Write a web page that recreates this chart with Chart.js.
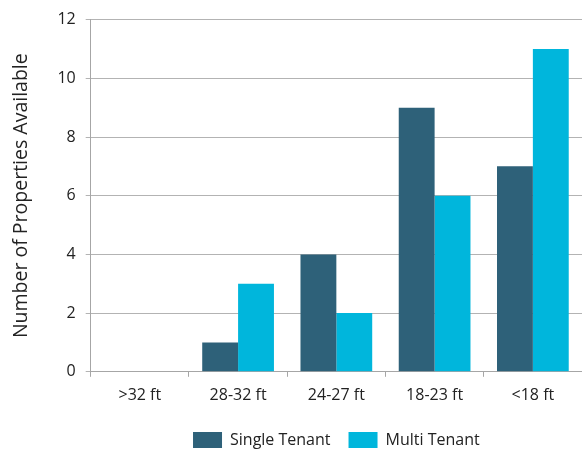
<!DOCTYPE html>
<html><head><meta charset="utf-8">
<script src="https://cdn.jsdelivr.net/npm/chart.js@4/dist/chart.umd.min.js"></script>
<style>html,body{margin:0;padding:0;background:#fff}#wrap{width:582px;height:450px}</style>
</head><body><div id="wrap"><canvas id="c"></canvas></div>
<script>
const categories = [">32 ft", "28-32 ft", "24-27 ft", "18-23 ft", "<18 ft"];
const singleTenant = [0, 1, 4, 9, 7];
const multiTenant = [0, 3, 2, 6, 11];
const seriesNames = ["Single Tenant", "Multi Tenant"];
const yTicks = [0, 2, 4, 6, 8, 10, 12];

const FONT = "'Open Sans', 'DejaVu Sans', sans-serif";
new Chart(document.getElementById('c'), {
  type: 'bar',
  data: {
    labels: categories,
    datasets: [
      {label: seriesNames[0], data: singleTenant, backgroundColor: '#2e6179', categoryPercentage: 0.73, barPercentage: 1.0},
      {label: seriesNames[1], data: multiTenant, backgroundColor: '#00b6dc', categoryPercentage: 0.73, barPercentage: 1.0}
    ]
  },
  options: {
    responsive: true, maintainAspectRatio: false, animation: false,
    layout: {padding: {top: 4, right: 0, bottom: -8, left: 10}},
    plugins: {
      legend: {position: 'bottom', fullSize: false, labels: {boxWidth: 29, boxHeight: 16, padding: 18, color: '#222', font: {family: FONT, size: 16}}},
      tooltip: {enabled: false}
    },
    scales: {
      x: {
        grid: {drawOnChartArea: false, drawTicks: true, tickLength: 5, color: '#a6a6a6', offset: true},
        border: {color: '#a6a6a6', width: 1},
        ticks: {color: '#222', padding: 9, font: {family: FONT, size: 16}}
      },
      y: {
        min: 0, max: 12,
        afterBuildTicks: (s) => { s.ticks = yTicks.map(v => ({value: v})); },
        grid: {color: '#b3b3b3', tickLength: 5},
        border: {color: '#a6a6a6', width: 1},
        ticks: {color: '#222', padding: 10, font: {family: FONT, size: 16}},
        title: {display: true, text: 'Number of Properties Available', color: '#222', font: {family: FONT, size: 19.5}, padding: {top: 0, bottom: 14}}
      }
    }
  }
});
</script></body></html>
